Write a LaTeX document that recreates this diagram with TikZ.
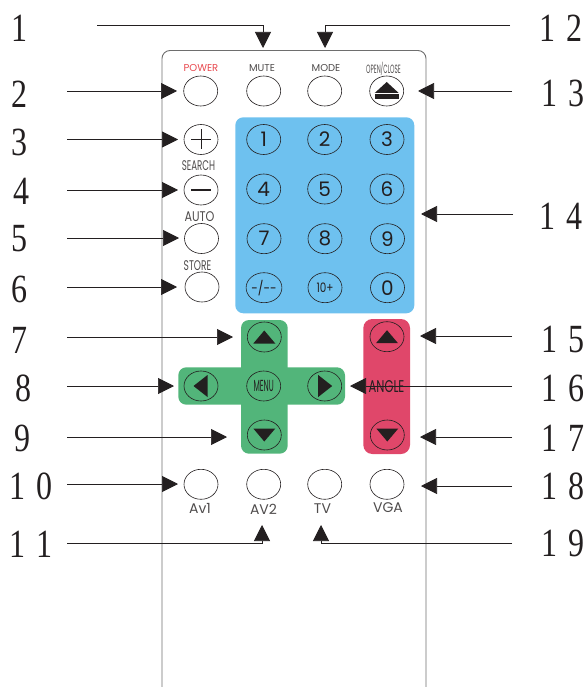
\documentclass[tikz,border=0pt]{standalone}
\usepackage{fontspec}
\setmainfont{Liberation Serif}
\newfontfamily\keyfont{Poppins}
\usetikzlibrary{arrows,arrows.meta}
\usetikzlibrary{shapes.geometric}
\definecolor{keypad}{RGB}{110,193,239}
\definecolor{cross}{RGB}{82,181,122}
\definecolor{anglered}{RGB}{224,71,106}
\definecolor{casing}{RGB}{110,110,110}
\definecolor{ink}{RGB}{35,31,32}
\definecolor{powerred}{RGB}{232,73,79}
\tikzset{
	btn/.style={draw=ink,ellipse,inner sep=0pt,minimum width=34pt,minimum height=30pt,line width=0.6pt},
	num/.style={font=\fontsize{40}{40}\selectfont,text=ink,inner sep=0pt,xscale=0.8,transform shape},
	digit/.style={font=\keyfont\fontsize{20}{20}\selectfont,text=ink,inner sep=0pt},
	tag/.style={font=\keyfont\fontsize{10}{10}\selectfont,text=ink!80,inner sep=0pt},
	tagbig/.style={tag,font=\keyfont\fontsize{14}{14}\selectfont},
	squeeze/.style={xscale=#1,transform shape},
	leader/.style={draw=ink,line width=0.7pt,-{Triangle[length=16pt,width=16pt]}},
}
\begin{document}
\begin{tikzpicture}[x=1pt,y=-1pt]
	\useasboundingbox (0,0) rectangle (588,687);
	\draw[casing,line width=0.9pt,rounded corners=8pt] (162,688) -- (162,50.5) -- (426,50.5) -- (426,688);
	\fill[keypad,rounded corners=8pt] (235.3,117.3) rectangle (414.3,313.3);
	\fill[cross,rounded corners=8pt] (241,320) rectangle (287.7,453.7);
	\fill[cross,rounded corners=8pt] (178.3,367.3) rectangle (345,404.7);
	\fill[anglered,rounded corners=9pt] (363.3,319) rectangle (410,454);

	\node[btn,name=POWER] at (200.7,91) {};
	\node[btn,name=MUTE] at (263.7,91) {};
	\node[btn,name=MODE] at (324.7,91) {};
	\node[btn,name=EJECT] at (386.7,91) {};
	\node[btn,name=PLUS] at (201,139.5) {};
	\node[btn,name=MINUS] at (201,190) {};
	\node[btn,name=AUTO] at (201.5,238.5) {};
	\node[btn,name=STORE] at (202,287) {};
	\node[tag,text=powerred,name=Tpower] at (201,68.5) {POWER};
	\node[tag,name=Tmute] at (262,68.5) {MUTE};
	\node[tag,name=Tmode] at (326,68.5) {MODE};
	\node[tag,font=\keyfont\fontsize{12}{12}\selectfont,squeeze=0.47,name=Topen] at (383.5,68.5) {OPEN/CLOSE};
	\node[tagbig,squeeze=0.62,name=Tsearch] at (198.5,165.5) {SEARCH};
	\node[tagbig,squeeze=0.8,name=Tauto] at (199.5,216.5) {AUTO};
	\node[tagbig,squeeze=0.65,name=Tstore] at (197.5,265.5) {STORE};
	\fill[ink] (EJECT.center) ++(-12,2) -- ++(24,0) -- ++(-12,-11) -- cycle;
	\fill[ink] (EJECT.center) ++(-12,2.8) rectangle ++(24,5.6);
	\draw[ink,line width=0.9pt] (PLUS.center) ++(-10,0) -- ++(20,0) (PLUS.center) ++(0,-10) -- ++(0,20);
	\draw[ink,line width=2pt] (MINUS.center) ++(-10,0) -- ++(20,0);

	\node[btn,digit,name=D1] at (263.7,139.5) {1};
	\node[btn,digit,name=D2] at (324.7,139.5) {2};
	\node[btn,digit,name=D3] at (387,139.5) {3};
	\node[btn,digit,name=D4] at (263.7,189) {4};
	\node[btn,digit,name=D5] at (324.7,189) {5};
	\node[btn,digit,name=D6] at (387,189) {6};
	\node[btn,digit,name=D7] at (264,238.7) {7};
	\node[btn,digit,name=D8] at (325,238.7) {8};
	\node[btn,digit,name=D9] at (387.5,238.7) {9};
	\node[btn,digit,font=\keyfont\fontsize{14}{14}\selectfont,name=Ddash] at (264,287.7) {\scalebox{0.85}[1]{-/--}};
	\node[btn,digit,font=\keyfont\fontsize{13}{13}\selectfont,name=Dten] at (325,287.7) {\scalebox{0.8}[1]{10+}};
	\node[btn,digit,name=D0] at (387.5,287.7) {0};

	\node[btn,name=UP] at (264.3,337) {};
	\node[btn,name=LEFT] at (201,386) {};
	\node[btn,font=\keyfont\fontsize{16}{16}\selectfont,text=ink,name=MENU] at (263.7,386) {\scalebox{0.46}[1]{MENU}};
	\node[btn,name=RIGHT] at (324.7,386) {};
	\node[btn,name=DOWN] at (264.3,435) {};
	\node[btn,name=ANGUP] at (387,336.7) {};
	\node[btn,name=ANGDOWN] at (387.3,435) {};
	\node[tag,font=\keyfont\fontsize{17}{17}\selectfont,squeeze=0.68,text=ink,name=ANGLE] at (386.5,386.5) {ANGLE};
	\fill[ink] (UP.center) ++(-11,6.5) -- ++(22,0) -- ++(-11,-13) -- cycle;
	\fill[ink] (DOWN.center) ++(-11,-6.5) -- ++(22,0) -- ++(-11,13) -- cycle;
	\fill[ink] (ANGUP.center) ++(-11,6.5) -- ++(22,0) -- ++(-11,-13) -- cycle;
	\fill[ink] (ANGDOWN.center) ++(-11,-6.5) -- ++(22,0) -- ++(-11,13) -- cycle;
	\fill[ink] (LEFT.center) ++(6.5,-11) -- ++(0,22) -- ++(-14,-11) -- cycle;
	\fill[ink] (RIGHT.center) ++(-6.5,-11) -- ++(0,22) -- ++(14,-11) -- cycle;

	\node[btn,name=AV1] at (201,484.3) {};
	\node[btn,name=AV2] at (263.7,484.3) {};
	\node[btn,name=TV] at (324.7,484.3) {};
	\node[btn,name=VGA] at (387,484.3) {};
	\node[tagbig,name=Tav1] at (200,508) {Av1};
	\node[tagbig,name=Tav2] at (263.5,509) {AV2};
	\node[tagbig,name=Ttv] at (322.5,509) {TV};
	\node[tagbig,name=Tvga] at (388,508) {VGA};

	\node[num,name=N1] at (19,28) {1};
	\node[num,name=N2] at (20,94) {2};
	\node[num,name=N3] at (20,142) {3};
	\node[num,name=N4] at (21,191) {4};
	\node[num,name=N5] at (20,239) {5};
	\node[num,name=N6] at (20,289) {6};
	\node[num,name=N7] at (19,340) {7};
	\node[num,name=N8] at (24,388) {8};
	\node[num,name=N9] at (22,438) {9};
	\node[num,name=N10] at (31,486) {1\hspace{14pt}0};
	\node[num,name=N11] at (31,544) {1\hspace{14pt}1};
	\node[num,name=N12] at (561,28) {1\hspace{14pt}2};
	\node[num,name=N13] at (563,93) {1\hspace{14pt}3};
	\node[num,name=N14] at (561,216) {1\hspace{14pt}4};
	\node[num,name=N15] at (563,339) {1\hspace{14pt}5};
	\node[num,name=N16] at (563,388) {1\hspace{14pt}6};
	\node[num,name=N17] at (563,438) {1\hspace{14pt}7};
	\node[num,name=N18] at (563,486) {1\hspace{14pt}8};
	\node[num,name=N19] at (563,543) {1\hspace{14pt}9};

	\coordinate (S1) at (97,25);
	\coordinate (C1) at (263,25);
	\coordinate (E1) at (263,48);
	\draw[leader] (S1) -- (C1) -- (E1);
	\coordinate (S12) at (510,25);
	\coordinate (C12) at (325,25);
	\coordinate (E12) at (325,48);
	\draw[leader] (S12) -- (C12) -- (E12);
	\coordinate (S11) at (67,543);
	\coordinate (C11) at (262,543);
	\coordinate (E11) at (262,525);
	\draw[leader] (S11) -- (C11) -- (E11);
	\coordinate (S19) at (512,543);
	\coordinate (C19) at (321,543);
	\coordinate (E19) at (321,525);
	\draw[leader] (S19) -- (C19) -- (E19);

	\coordinate (S2) at (67,91);
	\coordinate (E2) at (177,91);
	\draw[leader] (S2) -- (E2);
	\coordinate (S3) at (67,139.5);
	\coordinate (E3) at (178,139.5);
	\draw[leader] (S3) -- (E3);
	\coordinate (S4) at (67,190);
	\coordinate (E4) at (178,190);
	\draw[leader] (S4) -- (E4);
	\coordinate (S5) at (67,238);
	\coordinate (E5) at (179,238);
	\draw[leader] (S5) -- (E5);
	\coordinate (S6) at (67,287);
	\coordinate (E6) at (177,287);
	\draw[leader] (S6) -- (E6);
	\coordinate (S7) at (67,337);
	\coordinate (E7) at (233,337);
	\draw[leader] (S7) -- (E7);
	\coordinate (S8) at (67,386);
	\coordinate (E8) at (174,386);
	\draw[leader] (S8) -- (E8);
	\coordinate (S9) at (67,437);
	\coordinate (E9) at (227,437);
	\draw[leader] (S9) -- (E9);
	\coordinate (S10) at (67,484);
	\coordinate (E10) at (178,484);
	\draw[leader] (S10) -- (E10);

	\coordinate (S13) at (512,91);
	\coordinate (E13) at (418,91);
	\draw[leader] (S13) -- (E13);
	\coordinate (S14) at (513,214);
	\coordinate (E14) at (421,214);
	\draw[leader] (S14) -- (E14);
	\coordinate (S15) at (512,336);
	\coordinate (E15) at (420,336);
	\draw[leader] (S15) -- (E15);
	\coordinate (S16) at (512,386);
	\coordinate (E16) at (350,386);
	\draw[leader] (S16) -- (E16);
	\coordinate (S17) at (512,437);
	\coordinate (E17) at (420,437);
	\draw[leader] (S17) -- (E17);
	\coordinate (S18) at (512,486);
	\coordinate (E18) at (421,486);
	\draw[leader] (S18) -- (E18);
\end{tikzpicture}
\end{document}
